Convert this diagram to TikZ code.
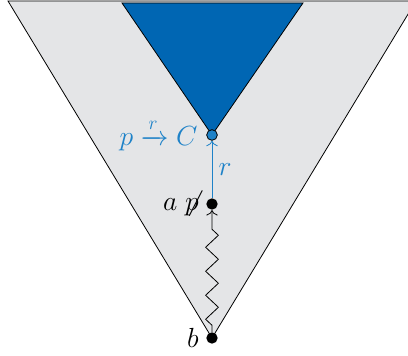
\documentclass[tikz,border=0pt]{standalone}
\usepackage{amsmath}
\usetikzlibrary{decorations.pathmorphing,arrows.meta}
\definecolor{conegrey}{RGB}{228,229,231}
\definecolor{futblue}{RGB}{0,102,179}
\definecolor{lblblue}{RGB}{30,130,200}
\tikzset{every picture/.style={line width=0.6pt}}
\tikzset{
  world/.style={circle,fill=black,inner sep=0pt,minimum size=8.5pt},
  cpoint/.style={circle,draw=black,fill=lblblue,inner sep=0pt,minimum size=8pt},
  lbl/.style={inner sep=0.75pt,font=\fontsize{22}{26}\selectfont},
  tip/.style={-{To[scale=1.4]}}
}

\begin{document}
\begin{tikzpicture}[x=0.75pt,y=0.75pt,yscale=-1,xscale=1]
		\useasboundingbox (0,0) rectangle (408,356);
		\clip (0,0) rectangle (408,356);
		
		%Cone of b
		\draw [fill=conegrey] (8,1) -- (416,1) -- (212,338) -- cycle ;
		%Future triangle
		\draw [fill=futblue] (122,3) -- (303,3) -- (212,135) -- cycle ;
		
		% Points
		\node [world] (b) at (212,338) {};
		\node [world] (a) at (212,204) {};
		\node [cpoint] (c) at (212,135) {};
		
		%Zigzag b to a
		\draw [tip,decorate,decoration={zigzag,segment length=18pt,amplitude=4.8pt,pre length=5pt,post length=7pt}] (b) -- (a) ;
		%Step r
		\draw [tip,lblblue] (a) -- node [lbl,right=4pt] {$r$} (c) ;
		
		% Text Node
		\node [lbl,anchor=east] (blbl) at (200,338) {$b$};
		% Text Node
		\node [lbl,anchor=east] (albl) at (200,204) {$a\;\mathord{\not}p$};
		% Text Node
		\node [lbl,anchor=east,text=lblblue] (clbl) at (199,135) {$p\xrightarrow{r}C$};
\end{tikzpicture}
\end{document}
